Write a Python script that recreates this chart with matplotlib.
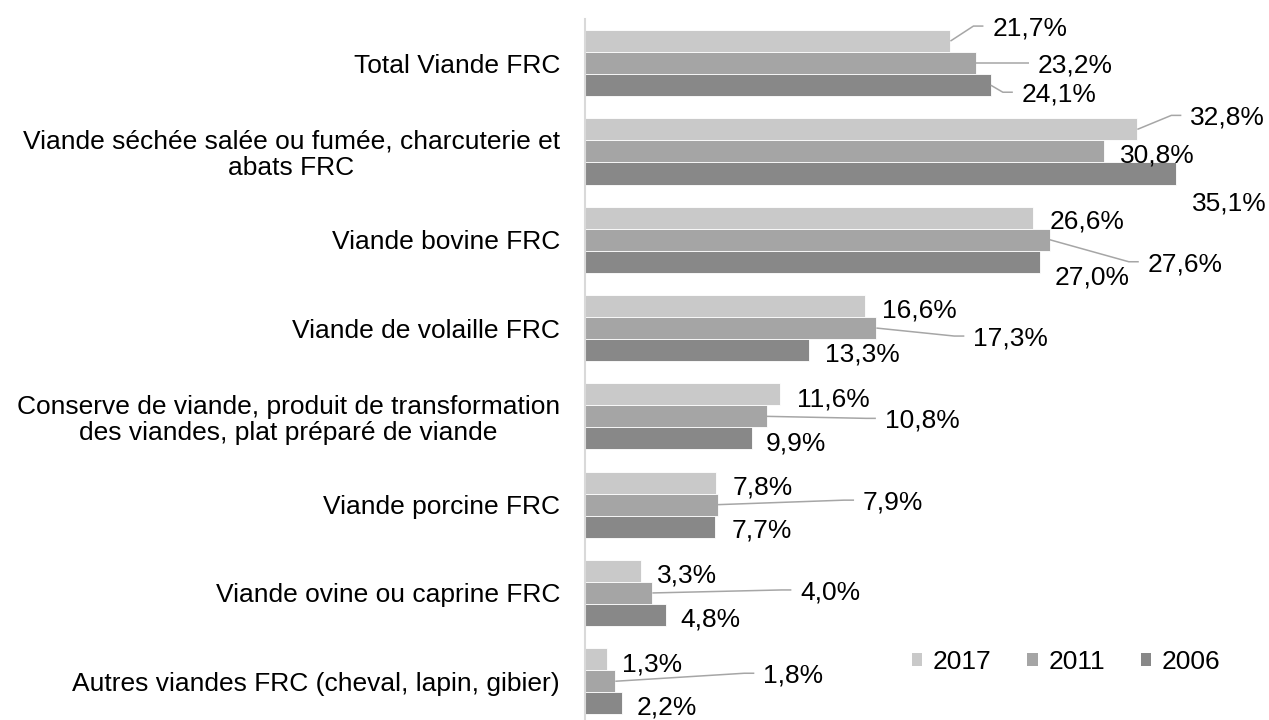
import matplotlib
matplotlib.use("Agg")
import matplotlib.pyplot as plt
from matplotlib.patches import Patch
import numpy as np

plt.rcParams['font.family'] = ['Liberation Sans', 'DejaVu Sans']

categories = [
    "Total Viande FRC",
    "Viande séchée salée ou fumée, charcuterie et\nabats FRC",
    "Viande bovine FRC",
    "Viande de volaille FRC",
    "Conserve de viande, produit de transformation\ndes viandes, plat préparé de viande",
    "Viande porcine FRC",
    "Viande ovine ou caprine FRC",
    "Autres viandes FRC (cheval, lapin, gibier)",
]
series_names = ["2017", "2011", "2006"]
values_2017 = [21.7, 32.8, 26.6, 16.6, 11.6, 7.8, 3.3, 1.3]
values_2011 = [23.2, 30.8, 27.6, 17.3, 10.8, 7.9, 4.0, 1.8]
values_2006 = [24.1, 35.1, 27.0, 13.3, 9.9, 7.7, 4.8, 2.2]

colors = ["#c9c9c9", "#a5a5a5", "#888888"]

# label offsets (pixels, from bar end; dy downwards)
offsets_2017 = [(42, -15), (53, -14), (17, 1), (17, 2), (17, 3), (16, 2.5), (16, 2), (15, 3)]
offsets_2011 = [(62, 0), (16, 2), (98, 22), (97, 8), (118, 2), (145, -4.5), (148, -3), (148, -8)]
offsets_2006 = [(31, 7), (16, 27), (15, 13), (16, 2), (14, 3), (17, 1.5), (15, 2), (15, 2)]

W, H = 1269, 720
fig = plt.figure(figsize=(W / 100, H / 100), dpi=100)
ax = fig.add_axes([585 / W, (720 - 725.4) / H, 684 / W, 706.4 / H])

FS = 19
fs_px = FS * 100 / 72

y = np.arange(len(categories))
bh = 0.25
all_vals = [values_2017, values_2011, values_2006]
all_offs = [offsets_2017, offsets_2011, offsets_2006]
shifts = [-bh, 0, bh]

for vals, col, sh, name in zip(all_vals, colors, shifts, series_names):
    ax.barh(y + sh, vals, height=bh, color=col, edgecolor="white", linewidth=0.6, label=name, zorder=2)

ax.set_xlim(0, 684 / 16.84)
ax.set_ylim(len(categories) - 0.5, -0.5)
ax.set_xticks([])
ax.set_yticks(y)
ax.set_yticklabels(categories, fontsize=FS)
for lbl in ax.get_yticklabels():
    lbl.set_multialignment('center')
    lbl.set_linespacing(1.1)
ax.tick_params(axis='y', length=0, pad=18)
for s in ["top", "right", "bottom"]:
    ax.spines[s].set_visible(False)
ax.spines["left"].set_color("#d9d9d9")
ax.spines["left"].set_linewidth(1.5)

for vals, offs, sh in zip(all_vals, all_offs, shifts):
    for i, (v, (dx, dy)) in enumerate(zip(vals, offs)):
        txt = f"{v:.1f}%".replace(".", ",")
        ax.annotate(txt, xy=(v, i + sh), xytext=(dx, -dy - 0.36 * fs_px),
                    textcoords='offset pixels', ha='left', va='baseline',
                    fontsize=FS, color='black', zorder=4)
        if dx > 25:
            x0, y0 = ax.transData.transform((v, i + sh))
            xs = [x0, x0 + dx - 19, x0 + dx - 9]
            ys = [y0, y0 - dy, y0 - dy]
            ax.plot(xs, ys, transform=None, color="#a6a6a6", linewidth=1.1,
                    solid_capstyle='butt', zorder=3, clip_on=False)

handles = [Patch(facecolor=c, edgecolor='none') for c in colors]
fig.legend(handles, series_names, loc='center left',
           bbox_to_anchor=(912 / W, 1 - 662 / H), ncol=3, frameon=False,
           fontsize=FS, handlelength=0.38, handleheight=0.38, handletextpad=0.42,
           columnspacing=1.35, borderpad=0, borderaxespad=0)

fig.savefig("out.png", dpi=100)
